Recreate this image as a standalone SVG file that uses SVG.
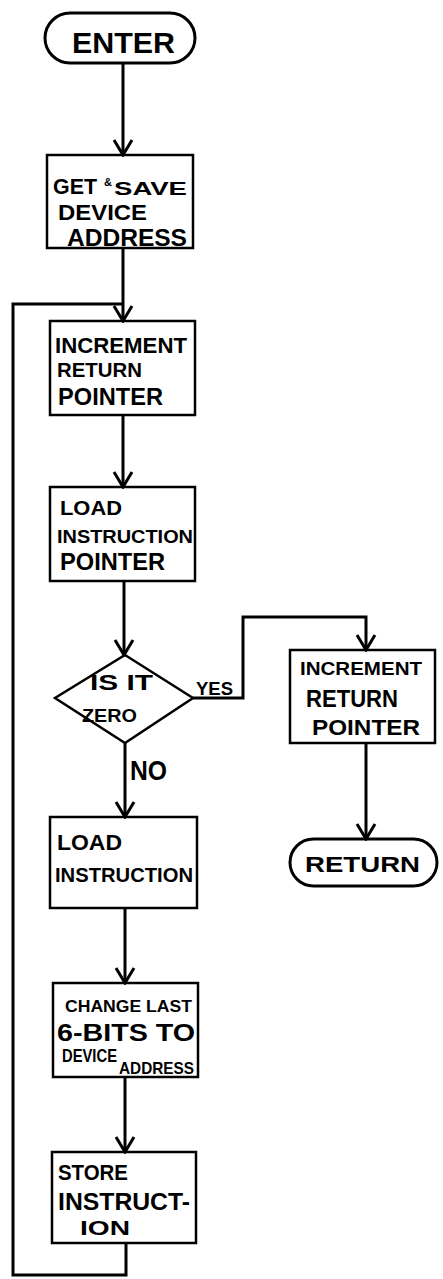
<svg xmlns="http://www.w3.org/2000/svg" width="443" height="1279" viewBox="0 0 443 1279">
<defs>
<style>
.box{fill:none;stroke:#000;stroke-width:2.5}
.term{fill:none;stroke:#000;stroke-width:3}
.con{fill:none;stroke:#000;stroke-width:3;stroke-linejoin:miter}
.t{font-family:"Liberation Sans",Arial,sans-serif;font-weight:bold;fill:#000}
</style>
<marker id="arr" viewBox="-17 -11 19 22" refX="0" refY="0" markerWidth="19" markerHeight="22" markerUnits="userSpaceOnUse" orient="auto">
<path d="M-15,-9 L0,0 L-15,9" fill="none" stroke="#000" stroke-width="3"/>
</marker>
</defs>
<rect width="443" height="1279" fill="#fff"/>
<g id="connectors">
<path class="con" d="M123,63 V155" marker-end="url(#arr)"/>
<path class="con" d="M123,248 V321" marker-end="url(#arr)"/>
<path class="con" d="M123,415 V487" marker-end="url(#arr)"/>
<path class="con" d="M124,581 V655" marker-end="url(#arr)"/>
<path class="con" d="M125,743 V817" marker-end="url(#arr)"/>
<path class="con" d="M125,908 V983" marker-end="url(#arr)"/>
<path class="con" d="M125,1077 V1152" marker-end="url(#arr)"/>
<path class="con" d="M126,1243 V1275 H13 V304 H123"/>
<path class="con" d="M193,698 H243 V617 H366 V650" marker-end="url(#arr)"/>
<path class="con" d="M366,743 V839" marker-end="url(#arr)"/>
<text class="t" x="196" y="695" font-size="19" textLength="37" lengthAdjust="spacingAndGlyphs">YES</text>
<text class="t" x="130" y="780" font-size="27" textLength="37" lengthAdjust="spacingAndGlyphs">NO</text>
</g>
<g id="enter">
<rect class="term" x="45" y="13" width="150" height="50" rx="25"/>
<text class="t" x="72" y="53" font-size="29" textLength="103" lengthAdjust="spacingAndGlyphs">ENTER</text>
</g>
<g id="get-save">
<rect class="box" x="47" y="155" width="146" height="93"/>
<text class="t" font-size="22"><tspan x="53" y="194" textLength="44" lengthAdjust="spacingAndGlyphs">GET</tspan><tspan x="104" y="186" font-size="11">&amp;</tspan><tspan x="114" y="195" font-size="18" textLength="73" lengthAdjust="spacingAndGlyphs">SAVE</tspan></text>
<text class="t" x="58" y="220" font-size="22" textLength="89" lengthAdjust="spacingAndGlyphs">DEVICE</text>
<text class="t" x="67" y="246" font-size="23" textLength="120" lengthAdjust="spacingAndGlyphs">ADDRESS</text>
</g>
<g id="increment-1">
<rect class="box" x="50" y="321" width="145" height="94"/>
<text class="t" x="55" y="353" font-size="22" textLength="132" lengthAdjust="spacingAndGlyphs">INCREMENT</text>
<text class="t" x="57" y="377" font-size="20" textLength="85" lengthAdjust="spacingAndGlyphs">RETURN</text>
<text class="t" x="58" y="405" font-size="24" textLength="105" lengthAdjust="spacingAndGlyphs">POINTER</text>
</g>
<g id="load-ip">
<rect class="box" x="50" y="487" width="145" height="94"/>
<text class="t" x="60" y="515" font-size="21" textLength="62" lengthAdjust="spacingAndGlyphs">LOAD</text>
<text class="t" x="57" y="543" font-size="18" textLength="136" lengthAdjust="spacingAndGlyphs">INSTRUCTION</text>
<text class="t" x="60" y="570" font-size="23" textLength="105" lengthAdjust="spacingAndGlyphs">POINTER</text>
</g>
<g id="is-zero">
<path class="box" d="M125,655 L193,698 L125,743 L55,698 Z"/>
<text class="t" x="90" y="690" font-size="22" textLength="63" lengthAdjust="spacingAndGlyphs">IS IT</text>
<text class="t" x="82" y="722" font-size="19" textLength="55" lengthAdjust="spacingAndGlyphs">ZERO</text>
</g>
<g id="increment-2">
<rect class="box" x="290" y="650" width="145" height="93"/>
<text class="t" x="300" y="675" font-size="18" textLength="122" lengthAdjust="spacingAndGlyphs">INCREMENT</text>
<text class="t" x="306" y="707" font-size="24" textLength="92" lengthAdjust="spacingAndGlyphs">RETURN</text>
<text class="t" x="312" y="735" font-size="22" textLength="108" lengthAdjust="spacingAndGlyphs">POINTER</text>
</g>
<g id="return">
<rect class="term" x="290" y="839" width="147" height="47" rx="23.5"/>
<text class="t" x="305" y="872" font-size="22" textLength="115" lengthAdjust="spacingAndGlyphs">RETURN</text>
</g>
<g id="load-instruction">
<rect class="box" x="50" y="817" width="147" height="91"/>
<text class="t" x="57" y="850" font-size="22" textLength="65" lengthAdjust="spacingAndGlyphs">LOAD</text>
<text class="t" x="55" y="882" font-size="20" textLength="138" lengthAdjust="spacingAndGlyphs">INSTRUCTION</text>
</g>
<g id="change-bits">
<rect class="box" x="53" y="983" width="145" height="94"/>
<text class="t" x="65" y="1012" font-size="16" textLength="127" lengthAdjust="spacingAndGlyphs">CHANGE LAST</text>
<text class="t" x="57" y="1041" font-size="24" textLength="138" lengthAdjust="spacingAndGlyphs">6-BITS TO</text>
<text class="t" x="62" y="1062" font-size="18" textLength="55" lengthAdjust="spacingAndGlyphs">DEVICE</text>
<text class="t" x="119" y="1074" font-size="17" textLength="75" lengthAdjust="spacingAndGlyphs">ADDRESS</text>
</g>
<g id="store-instruction">
<rect class="box" x="52" y="1152" width="144" height="91"/>
<text class="t" x="58" y="1180" font-size="22" textLength="70" lengthAdjust="spacingAndGlyphs">STORE</text>
<text class="t" x="58" y="1210" font-size="24" textLength="132" lengthAdjust="spacingAndGlyphs">INSTRUCT-</text>
<text class="t" x="80" y="1235" font-size="20" textLength="50" lengthAdjust="spacingAndGlyphs">ION</text>
</g>
</svg>
